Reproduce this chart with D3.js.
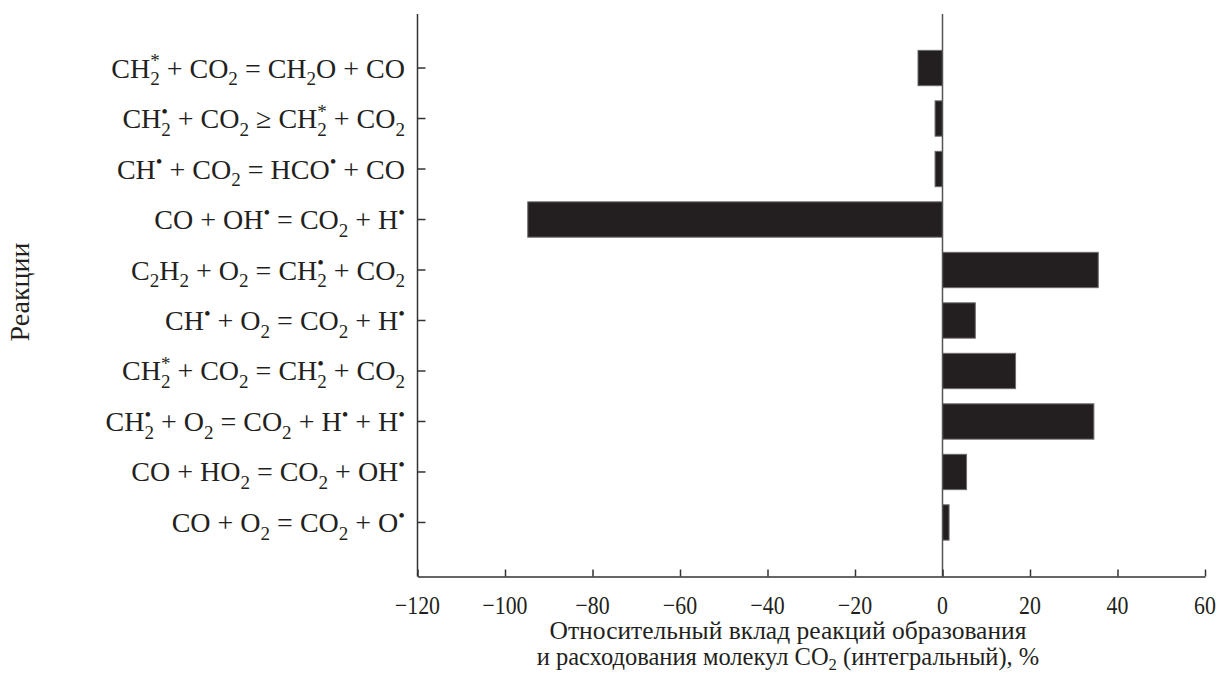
<!DOCTYPE html>
<html lang="ru">
<head>
<meta charset="UTF-8">
<title>Вклад реакций CO2</title>
<script src="https://d3js.org/d3.v7.min.js"></script>
<style>
    body { margin: 0; background: #fff; }
    svg { display: block; background: #fff; }
    text { font-family: "Liberation Serif", "DejaVu Serif", serif; fill: #231f20; }
</style>
</head>
<body>
<svg id="chart" width="1220" height="676"></svg>
<script>
// reactions, top to bottom. "_x" = subscript, "^x" = superscript
const reactions = [
    "CH_2^* + CO_2 = CH_2O + CO",
    "CH_2^• + CO_2 ≥ CH_2^* + CO_2",
    "CH^• + CO_2 = HCO^• + CO",
    "CO + OH^• = CO_2 + H^•",
    "C_2H_2 + O_2 = CH_2^• + CO_2",
    "CH^• + O_2 = CO_2 + H^•",
    "CH_2^* + CO_2 = CH_2^• + CO_2",
    "CH_2^• + O_2 = CO_2 + H^• + H^•",
    "CO + HO_2 = CO_2 + OH^•",
    "CO + O_2 = CO_2 + O^•"
];
const contribution = [-5.6, -1.7, -1.7, -94.8, 35.6, 7.5, 16.7, 34.6, 5.5, 1.5];
const xTicks = [-120, -100, -80, -60, -40, -20, 0, 20, 40, 60];
const yTitle = "Реакции";
const xTitle1 = "Относительный вклад реакций образования";
const xTitle2 = "и расходования молекул CO_2 (интегральный), %";

const svg = d3.select("#chart");
const plotL = 417.5, plotR = 1205, plotT = 14, plotB = 576.5;

const x = d3.scaleLinear().domain([-120, 60]).range([plotL, plotR]);
const y = d3.scaleBand().domain(d3.range(reactions.length))
    .range([plotT, plotB]).paddingInner(0.3).paddingOuter(0.72);

// write a formula string into a <text> as tspans
function formula(textSel, str, size, subK = 0.28) {
    const small = size * 0.68;
    const subDy = size * subK, supDy = -size * 0.36;
    let shift = 0, i = 0, run = "", gap = 0;
    const flush = () => {
        if (!run) return;
        textSel.append("tspan").attr("dx", gap || null).attr("dy", -shift).text(run);
        shift = 0; run = ""; gap = 0;
    };
    while (i < str.length) {
        const c = str[i];
        if (c === "_" || c === "^") {
            flush();
            const target = c === "_" ? subDy : supDy;
            const t = textSel.append("tspan")
                .attr("font-size", small)
                .attr("dy", target - shift).text(str[i + 1]);
            shift = target;
            i += 2;
            // superscript stacked over the subscript (CH2*)
            if (c === "_" && str[i] === "^") {
                const w = t.node().getComputedTextLength();
                const sup = textSel.append("tspan")
                    .attr("font-size", small)
                    .attr("dx", -w).attr("dy", supDy - shift).text(str[i + 1]);
                shift = supDy;
                i += 2;
                gap = Math.max(0, w - sup.node().getComputedTextLength());
            }
        } else {
            run += c;
            i++;
        }
    }
    flush();
}

// bars
svg.append("g").selectAll("rect")
    .data(contribution)
    .join("rect")
    .attr("x", d => x(Math.min(0, d)))
    .attr("width", d => Math.abs(x(d) - x(0)))
    .attr("y", (d, i) => y(i))
    .attr("height", y.bandwidth())
    .attr("fill", "#231f20")
    .attr("stroke", "#6d6b6c")
    .attr("stroke-width", 1);

// zero line
svg.append("line")
    .attr("x1", x(0)).attr("x2", x(0))
    .attr("y1", plotT).attr("y2", plotB)
    .attr("stroke", "#555").attr("stroke-width", 1.5);

// y axis (ticks point inward)
const yAxis = svg.append("g")
    .attr("transform", `translate(${plotL},0)`)
    .call(d3.axisLeft(y).tickSizeInner(-8).tickSizeOuter(0).tickFormat(""));
yAxis.select(".domain").attr("d", `M0,${plotT}V${plotB}`);

// x axis
svg.append("g")
    .attr("transform", `translate(0,${plotB})`)
    .call(d3.axisBottom(x).tickValues(xTicks).tickSizeInner(-7).tickSizeOuter(0).tickFormat(""));
svg.selectAll(".domain, .tick line").attr("stroke", "#333").attr("stroke-width", 1.5);

// x tick labels
svg.append("g").selectAll("text")
    .data(xTicks)
    .join("text")
    .attr("text-anchor", "middle")
    .attr("font-size", 26)
    .attr("transform", d => `translate(${x(d)},614) scale(0.84,1)`)
    .text(d => d3.format("")(d));

// reaction labels
reactions.forEach((r, i) => {
    const t = svg.append("text")
        .attr("x", 405)
        .attr("y", y(i) + y.bandwidth() / 2 + 9.5)
        .attr("text-anchor", "end")
        .attr("font-size", 28);
    formula(t, r, 28);
});

// axis titles
svg.append("text")
    .attr("text-anchor", "middle")
    .attr("font-size", 28)
    .attr("transform", "translate(29,292) rotate(-90)")
    .text(yTitle);

svg.append("text")
    .attr("text-anchor", "middle")
    .attr("font-size", 25.5)
    .attr("x", 788).attr("y", 639)
    .text(xTitle1);
const t2 = svg.append("text")
    .attr("text-anchor", "middle")
    .attr("font-size", 24.5)
    .attr("x", 788).attr("y", 665);
formula(t2, xTitle2, 24.5, 0.2);
</script>
</body>
</html>
